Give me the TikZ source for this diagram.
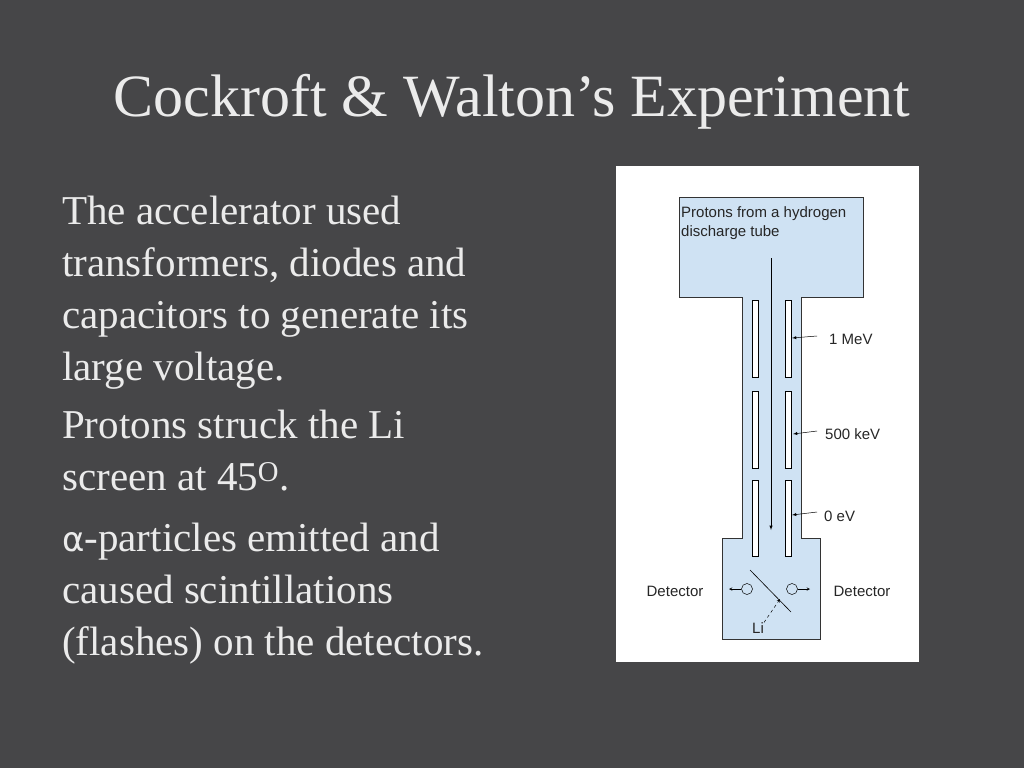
\documentclass[tikz,border=0pt]{standalone}
\usepackage{fontspec}
\setmainfont{Liberation Serif}
\newfontfamily\dia{Liberation Sans}
\newfontfamily\dv{DejaVu Sans}
\begin{document}
\begin{tikzpicture}[x=1pt,y=-1pt,
  pane/.style={draw=black!80,fill={rgb,255:red,207;green,226;blue,243},line width=0.6pt},
  elec/.style={draw=black,fill=white,line width=0.5pt},
  lab/.style={font=\dia\fontsize{15}{19}\selectfont,text=black!85,inner sep=0},
  body/.style={font=\fontsize{41}{52}\selectfont,text=white!92!black,align=left,anchor=north west,inner sep=0},
  thin/.style={-latex,line width=0.5pt}]
\fill[fill={rgb,255:red,70;green,70;blue,72}] (0,0) rectangle (1024,768);
\useasboundingbox (0,0) rectangle (1024,768);
\node[font=\fontsize{60}{64}\selectfont,text=white!92!black,anchor=base] (title) at (512,116) {Cockroft \& Walton’s Experiment};
\node[body] (p1) at (62,196) {The accelerator used\\transformers, diodes and\\capacitors to generate its\\large voltage.};
\node[body] (p2) at (62,410) {Protons struck the Li\\screen at 45\textsuperscript{O}.};
\node[body] (p3) at (62,523) {{\dv\fontsize{34}{52}\selectfont α}-particles emitted and\\caused scintillations\\(flashes) on the detectors.};
\fill[white] (616,166) rectangle (919,662);
\draw[pane] (679,197) -- (863,197) -- (863,297) -- (801,297) -- (801,538) -- (820,538) -- (820,639) -- (722,639) -- (722,538) -- (742,538) -- (742,297) -- (679,297) -- cycle;
\foreach \a/\b in {300/377,391/468,480/556}{
  \draw[elec] (752,\a) rectangle (758,\b);
  \draw[elec] (785,\a) rectangle (791,\b);}
\node[lab,anchor=north west,align=left] (src) at (681,206) {Protons from a hydrogen\\discharge tube};
\coordinate (b0) at (771,258); \coordinate (b1) at (771,530);
\draw[thin] (b0) -- (b1);
\node[lab,anchor=west] (v1) at (829,339) {1 MeV};
\node[lab,anchor=west] (v2) at (825,434) {500 keV};
\node[lab,anchor=west] (v3) at (824,516) {0 eV};
\coordinate (e1) at (792,338); \coordinate (e2) at (793,434); \coordinate (e3) at (792,515);
\draw[thin] (817,336) -- (e1);
\draw[thin] (817,431) -- (e2);
\draw[thin] (817,512) -- (e3);
\draw[line width=0.6pt] (750,570) -- (791,612);
\node[draw=black,circle,minimum size=11pt,inner sep=0,line width=0.5pt] (cl) at (747,589) {};
\node[draw=black,circle,minimum size=11pt,inner sep=0,line width=0.5pt] (cr) at (792,589) {};
\coordinate (al) at (729,589); \coordinate (ar) at (810,589);
\draw[thin,-stealth] (cl) -- (al);
\draw[thin,-stealth] (cr) -- (ar);
\node[lab] (dl) at (675,591) {Detector};
\node[lab] (dr) at (862,591) {Detector};
\node[lab] (li) at (758,628) {Li};
\coordinate (lt) at (780,599);
\draw[thin,dashed,-stealth] (li.north east) -- (lt);
\end{tikzpicture}
\end{document}
